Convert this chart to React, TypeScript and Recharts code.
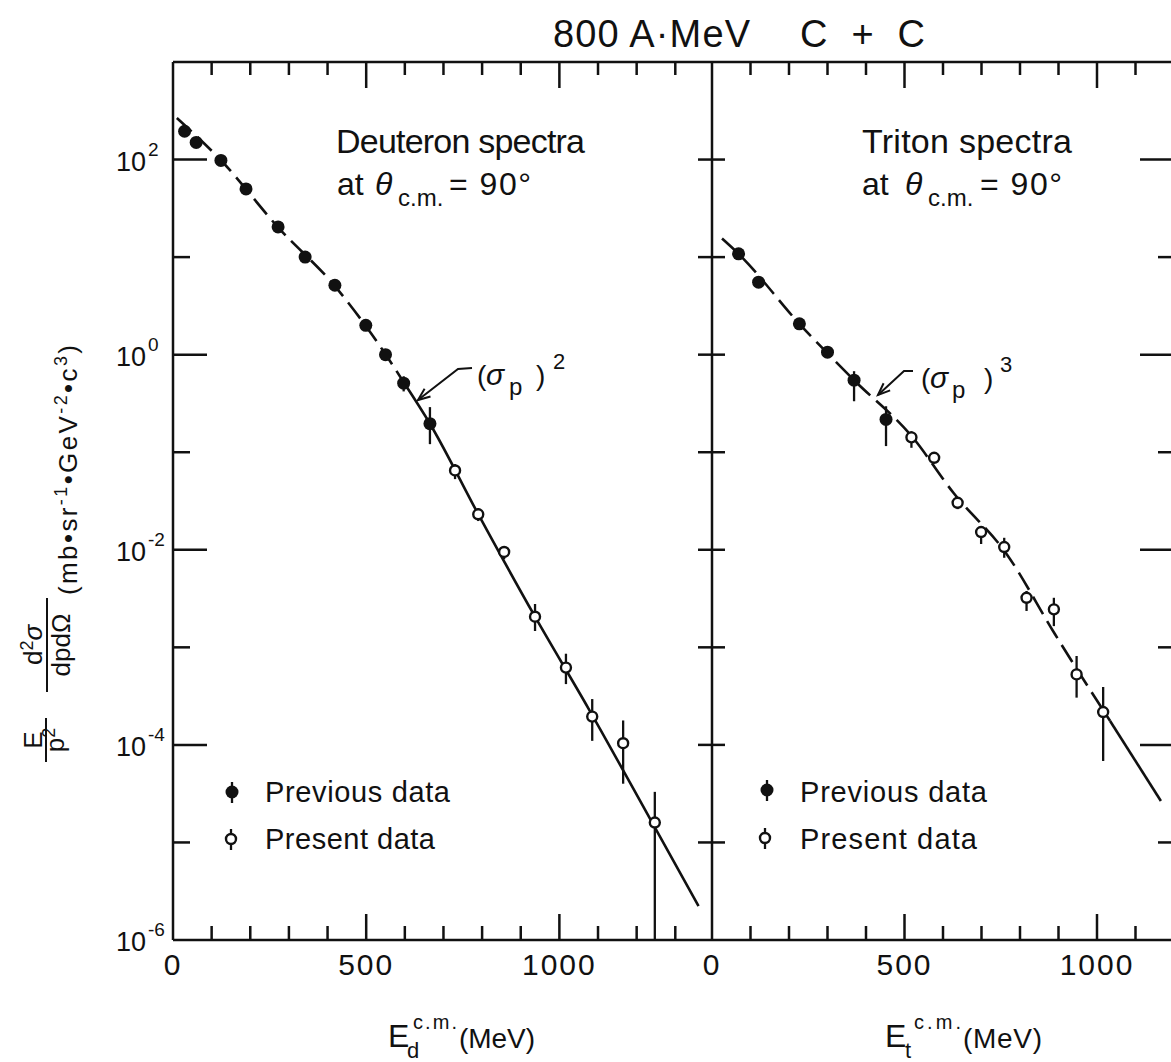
import React from 'react';
import { ComposedChart, Line, Scatter, XAxis, YAxis, ErrorBar } from 'recharts';

// ---------- deuteron spectra (left panel) ----------
const D_PREV_E = [30, 60, 124, 189, 272, 342, 419, 499, 550, 597, 665];
const D_PREV_V = [195, 150, 98, 50, 20.4, 10, 5.15, 2.0, 1.0, 0.51, 0.196];
const D_PREV_LO = [195, 150, 98, 50, 20.4, 10, 5.15, 2.0, 0.93, 0.42, 0.121];
const D_PREV_HI = [195, 150, 98, 50, 20.4, 10, 5.15, 2.0, 1.08, 0.6, 0.29];

const D_PRES_E = [730, 790, 857, 937, 1017, 1085, 1165, 1247];
const D_PRES_V = [0.065, 0.0231, 0.0095, 0.00206, 6.2e-4, 1.95e-4, 1.04e-4, 1.6e-5];
const D_PRES_LO = [0.053, 0.0197, 0.008, 0.00147, 4.2e-4, 1.1e-4, 4.0e-5, 1e-6];
const D_PRES_HI = [0.0755, 0.0267, 0.0109, 0.00278, 8.6e-4, 2.95e-4, 1.78e-4, 3.3e-5];

// (sigma_p)^2 curve
const D_FIT_E = [10, 124, 272, 419, 550, 600, 665, 790, 937, 1075, 1228, 1360];
const D_FIT_V = [267, 98.4, 20.2, 5.04, 1.01, 0.5, 0.196, 0.0232, 0.00206, 2.37e-4, 1.95e-5, 2.23e-6];
const D_DASH_END = 5; // dashed up to this index, solid after

// ---------- triton spectra (right panel) ----------
const T_PREV_E = [69, 121, 227, 300, 369, 452];
const T_PREV_V = [10.8, 5.53, 2.07, 1.06, 0.548, 0.217];
const T_PREV_LO = [10.8, 5.53, 2.07, 1.06, 0.333, 0.1156];
const T_PREV_HI = [10.8, 5.53, 2.07, 1.06, 0.677, 0.296];

const T_PRES_E = [518, 577, 638, 699, 759, 817, 888, 947, 1016];
const T_PRES_V = [0.142, 0.0877, 0.0303, 0.0152, 0.01066, 0.00322, 0.00245, 5.28e-4, 2.17e-4];
const T_PRES_LO = [0.111, 0.0877, 0.0261, 0.01146, 0.00828, 0.00236, 0.00165, 3.05e-4, 6.84e-5];
const T_PRES_HI = [0.164, 0.0877, 0.0341, 0.0175, 0.01327, 0.00378, 0.00322, 8.15e-4, 3.92e-4];

// (sigma_p)^3 curve
const T_FIT_E = [26, 69, 227, 369, 519, 627, 766, 891, 1034, 1166];
const T_FIT_V = [15.5, 10.8, 2.07, 0.548, 0.1455, 0.0384, 0.00897, 0.00136, 1.76e-4, 2.66e-5];
const T_DASH_END = 8;

// ---------- axes ----------
const Y_TICKS = [1e-6, 1e-5, 1e-4, 1e-3, 1e-2, 1e-1, 1, 10, 100, 1000];
const D_X_TICKS = [0, 100, 200, 300, 400, 500, 600, 700, 800, 900, 1000, 1100, 1200, 1300];
const T_X_TICKS = [0, 100, 200, 300, 400, 500, 600, 700, 800, 900, 1000, 1100];

const INK = '#111';
const FONT = '"Liberation Sans", Arial, sans-serif';
const LW = 2.5;

const points = (e: number[], v: number[], lo: number[], hi: number[]) =>
  e.map((x, i) => ({ x, y: v[i], err: [v[i] - lo[i], hi[i] - v[i]] }));
const curve = (e: number[], v: number[]) => e.map((x, i) => ({ x, y: v[i] }));

const FilledDot = (p: any) => <circle cx={p.cx} cy={p.cy} r={6.5} fill={INK} />;
const OpenDot = (p: any) => (
  <circle cx={p.cx} cy={p.cy} r={5} fill="#fff" stroke={INK} strokeWidth={2.4} />
);

const expOf = (v: number) => Math.round(Math.log10(v));

function BottomTick(p: any) {
  const { x, y, payload } = p;
  const v = payload.value;
  const major = v % 500 === 0;
  const len = v === 0 ? 0 : major ? 26 : 14;
  return (
    <g>
      {len > 0 && <line x1={x} x2={x} y1={y} y2={y - len} stroke={INK} strokeWidth={LW} />}
      {major && (
        <text x={x} y={y + 35} textAnchor="middle" fontSize={30} fontFamily={FONT} fill={INK}
          letterSpacing={2}>
          {v}
        </text>
      )}
    </g>
  );
}

function TopTick(p: any) {
  const { x, y, payload } = p;
  const v = payload.value;
  if (v === 0) return <g />;
  const len = v % 500 === 0 ? 26 : 13;
  return <line x1={x} x2={x} y1={y} y2={y + len} stroke={INK} strokeWidth={LW} />;
}

const yTick = (side: 'outerLeft' | 'divL' | 'divR' | 'outerRight') => (p: any) => {
  const { x, y, payload } = p;
  const e = expOf(payload.value);
  const major = e % 2 === 0;
  const inner = e > -6 && e < 3;
  let x1 = x, x2 = x;
  if (side === 'outerLeft') x2 = x + (major ? 34 : 17);
  if (side === 'outerRight') x1 = x - (major ? 34 : 16);
  if (side === 'divL') x1 = x - 14;
  if (side === 'divR') x2 = x + 13;
  return (
    <g>
      {inner && <line x1={x1} x2={x2} y1={y} y2={y} stroke={INK} strokeWidth={LW} />}
      {side === 'outerLeft' && major && e < 3 && (
        <text fontFamily={FONT} fill={INK} fontSize={27} y={y + 11}>
          <tspan x={x - 57}>10</tspan>
          <tspan x={x - 25} dy={-15} fontSize={19}>{e}</tspan>
        </text>
      )}
    </g>
  );
};

const axisLine = { stroke: INK, strokeWidth: LW };

function Arrow({ pts }: { pts: [number, number][] }) {
  const [tx, ty] = pts[pts.length - 1];
  const [px, py] = pts[pts.length - 2];
  const a = Math.atan2(ty - py, tx - px);
  const L = 13;
  const s = 0.38;
  const b1 = [tx - L * Math.cos(a - s), ty - L * Math.sin(a - s)];
  const b2 = [tx - L * Math.cos(a + s), ty - L * Math.sin(a + s)];
  return (
    <g stroke={INK} strokeWidth={2} fill="none">
      <polyline points={pts.map((q) => q.join(',')).join(' ')} />
      <polyline points={`${b1.join(',')} ${tx},${ty} ${b2.join(',')}`} />
    </g>
  );
}

function LegendKey({ x, y, filled }: { x: number; y: number; filled: boolean }) {
  return (
    <g>
      <line x1={x} x2={x} y1={y - 10} y2={y + 11} stroke={INK} strokeWidth={2.3} />
      {filled ? (
        <circle cx={x} cy={y} r={6.5} fill={INK} />
      ) : (
        <circle cx={x} cy={y} r={5} fill="#fff" stroke={INK} strokeWidth={2.4} />
      )}
    </g>
  );
}

function Panel({
  width, margin, maxE, xTicks, prev, pres, dash, solid, first,
}: any) {
  return (
    <ComposedChart width={width} height={1062} margin={margin}>
      <XAxis xAxisId="b" type="number" dataKey="x" domain={[0, maxE]} allowDataOverflow
        ticks={xTicks} interval={0} tick={BottomTick} tickLine={false} tickSize={0} tickMargin={0}
        axisLine={axisLine} height={1} />
      <XAxis xAxisId="t" orientation="top" type="number" dataKey="x" domain={[0, maxE]} allowDataOverflow
        ticks={xTicks} interval={0} tick={TopTick} tickLine={false} tickSize={0} tickMargin={0}
        axisLine={axisLine} height={1} />
      <YAxis yAxisId="l" type="number" scale="log" domain={[1e-6, 1e3]} allowDataOverflow
        ticks={Y_TICKS} interval={0} tick={yTick(first ? 'outerLeft' : 'divR')} tickLine={false}
        tickSize={0} tickMargin={0} axisLine={first ? axisLine : false} width={1} />
      <YAxis yAxisId="r" orientation="right" type="number" scale="log" domain={[1e-6, 1e3]} allowDataOverflow
        ticks={Y_TICKS} interval={0} tick={yTick(first ? 'divL' : 'outerRight')} tickLine={false}
        tickSize={0} tickMargin={0} axisLine={axisLine} width={1} />
      <Line xAxisId="b" yAxisId="l" data={dash} dataKey="y" type="monotone" dot={false}
        stroke={INK} strokeWidth={2.6} strokeDasharray="20 8" isAnimationActive={false} />
      <Line xAxisId="b" yAxisId="l" data={solid} dataKey="y" type="monotone" dot={false}
        stroke={INK} strokeWidth={2.6} isAnimationActive={false} />
      <Scatter xAxisId="b" yAxisId="l" data={prev} dataKey="y" shape={FilledDot} isAnimationActive={false}>
        <ErrorBar dataKey="err" direction="y" width={0} stroke={INK} strokeWidth={2.3} isAnimationActive={false} />
      </Scatter>
      <Scatter xAxisId="b" yAxisId="l" data={pres} dataKey="y" shape={OpenDot} isAnimationActive={false}>
        <ErrorBar dataKey="err" direction="y" width={0} stroke={INK} strokeWidth={2.3} isAnimationActive={false} />
      </Scatter>
    </ComposedChart>
  );
}

export default function App() {
  const dFit = curve(D_FIT_E, D_FIT_V);
  const tFit = curve(T_FIT_E, T_FIT_V);
  const txt = { fontFamily: FONT, fill: INK } as const;
  return (
    <div style={{ position: 'absolute', left: 0, top: 0, width: 1171, height: 1062, overflow: 'hidden', background: '#fff' }}>
      <div style={{ position: 'absolute', left: 0, top: 0 }}>
        <Panel first width={740} margin={{ top: 61, right: 27, bottom: 121, left: 172 }} maxE={1395}
          xTicks={D_X_TICKS}
          prev={points(D_PREV_E, D_PREV_V, D_PREV_LO, D_PREV_HI)}
          pres={points(D_PRES_E, D_PRES_V, D_PRES_LO, D_PRES_HI)}
          dash={dFit.slice(0, D_DASH_END + 1)} solid={dFit.slice(D_DASH_END)} />
      </div>
      <div style={{ position: 'absolute', left: 700, top: 0 }}>
        <Panel first={false} width={500} margin={{ top: 61, right: 25, bottom: 121, left: 11 }} maxE={1200}
          xTicks={T_X_TICKS}
          prev={points(T_PREV_E, T_PREV_V, T_PREV_LO, T_PREV_HI)}
          pres={points(T_PRES_E, T_PRES_V, T_PRES_LO, T_PRES_HI)}
          dash={tFit.slice(0, T_DASH_END + 1)} solid={tFit.slice(T_DASH_END)} />
      </div>

      <svg width={1171} height={1062} style={{ position: 'absolute', left: 0, top: 0, pointerEvents: 'none' }}>
        {/* title */}
        <text x={553} y={47} fontSize={38} textLength={197} {...txt}>800 A·MeV</text>
        <text x={800} y={47} fontSize={38} textLength={125} {...txt}>C + C</text>

        {/* left panel annotations */}
        <text x={336} y={153} fontSize={34} textLength={249} {...txt}>Deuteron spectra</text>
        <text x={337} y={195} fontSize={32} {...txt}>at</text>
        <text x={375} y={195} fontSize={32} fontStyle="italic" {...txt}>θ</text>
        <text x={398} y={206} fontSize={24} {...txt}>c.m.</text>
        <text x={449} y={195} fontSize={32} textLength={82} {...txt}>= 90°</text>

        <text x={477} y={385} fontSize={28} {...txt}>(</text>
        <text x={486} y={385} fontSize={30} fontStyle="italic" {...txt}>σ</text>
        <text x={509} y={395} fontSize={24} {...txt}>p</text>
        <text x={536} y={385} fontSize={28} {...txt}>)</text>
        <text x={553} y={369} fontSize={22} {...txt}>2</text>
        <Arrow pts={[[472, 368], [458, 369], [418, 400]]} />

        <LegendKey x={232} y={792} filled />
        <text x={265} y={802} fontSize={29} textLength={185} {...txt}>Previous data</text>
        <LegendKey x={231} y={839} filled={false} />
        <text x={265} y={849} fontSize={29} textLength={170} {...txt}>Present data</text>

        {/* right panel annotations */}
        <text x={862} y={153} fontSize={34} textLength={210} {...txt}>Triton spectra</text>
        <text x={862} y={195} fontSize={32} {...txt}>at</text>
        <text x={905} y={195} fontSize={32} fontStyle="italic" {...txt}>θ</text>
        <text x={928} y={206} fontSize={24} {...txt}>c.m.</text>
        <text x={980} y={195} fontSize={32} textLength={82} {...txt}>= 90°</text>

        <text x={921} y={388} fontSize={28} {...txt}>(</text>
        <text x={930} y={388} fontSize={30} fontStyle="italic" {...txt}>σ</text>
        <text x={952} y={398} fontSize={24} {...txt}>p</text>
        <text x={984} y={388} fontSize={28} {...txt}>)</text>
        <text x={1000} y={372} fontSize={22} {...txt}>3</text>
        <Arrow pts={[[913, 371], [904, 371], [878, 395]]} />

        <LegendKey x={767} y={790} filled />
        <text x={800} y={802} fontSize={29} textLength={187} {...txt}>Previous data</text>
        <LegendKey x={765} y={838} filled={false} />
        <text x={800} y={849} fontSize={29} textLength={177} {...txt}>Present data</text>

        {/* x axis titles */}
        <text x={388} y={1047} fontSize={32} {...txt}>E</text>
        <text x={407} y={1058} fontSize={22} {...txt}>d</text>
        <text x={413} y={1029} fontSize={20} textLength={44} {...txt}>c.m.</text>
        <text x={459} y={1048} fontSize={28} textLength={76} {...txt}>(MeV)</text>

        <text x={885} y={1047} fontSize={32} {...txt}>E</text>
        <text x={905} y={1058} fontSize={22} {...txt}>t</text>
        <text x={914} y={1029} fontSize={20} textLength={47} {...txt}>c.m.</text>
        <text x={963} y={1048} fontSize={28} textLength={79} {...txt}>(MeV)</text>

        {/* y axis title (rotated) */}
        <g transform="rotate(-90)" {...txt}>
          <text x={-740} y={42} fontSize={26} textAnchor="middle">E</text>
          <line x1={-762} x2={-718} y1={46} y2={46} stroke={INK} strokeWidth={2} />
          <text x={-740} y={64} fontSize={26} textAnchor="middle">
            p<tspan dy={-9} fontSize={18}>2</tspan>
          </text>
          <text x={-645} y={42} fontSize={26} textAnchor="middle">
            d<tspan dy={-9} fontSize={18}>2</tspan>
            <tspan dy={9} fontStyle="italic">σ</tspan>
          </text>
          <line x1={-692} x2={-598} y1={47} y2={47} stroke={INK} strokeWidth={2} />
          <text x={-645} y={70} fontSize={26} textAnchor="middle">dpdΩ</text>
          <text x={-595} y={77} fontSize={26} textLength={250}>
            (mb•sr<tspan dy={-10} fontSize={18}>-1</tspan>
            <tspan dy={10}>•GeV</tspan>
            <tspan dy={-10} fontSize={18}>-2</tspan>
            <tspan dy={10}>•c</tspan>
            <tspan dy={-10} fontSize={18}>3</tspan>
            <tspan dy={10}>)</tspan>
          </text>
        </g>
      </svg>
    </div>
  );
}
